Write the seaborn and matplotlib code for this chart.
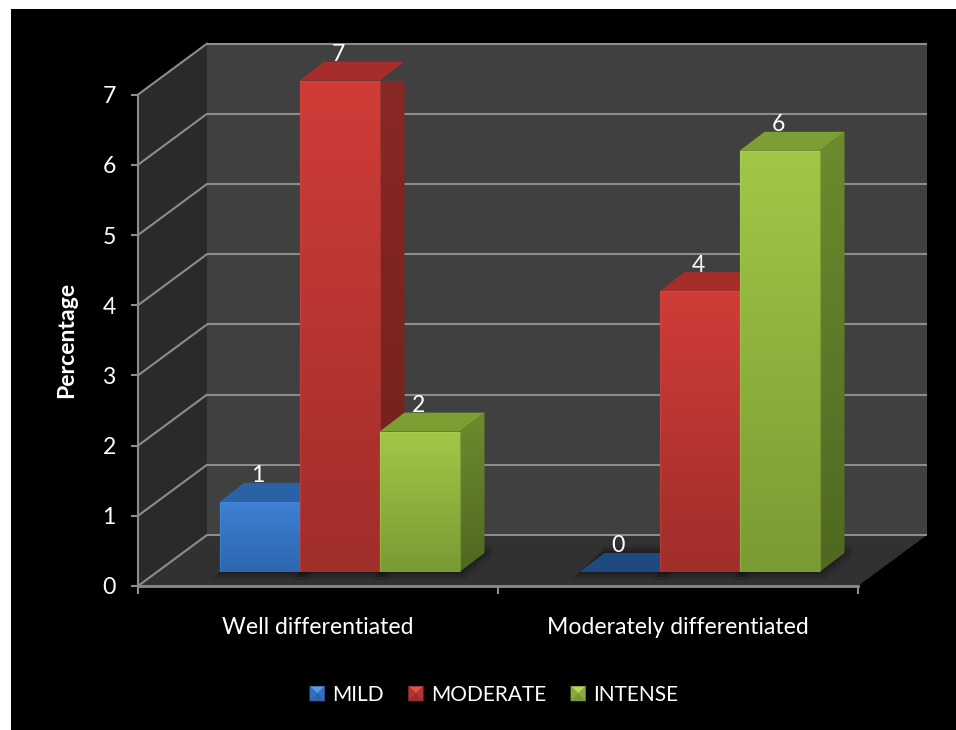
import numpy as np
import pandas as pd
import matplotlib
matplotlib.use("Agg")
import matplotlib.pyplot as plt
from matplotlib.colors import LinearSegmentedColormap, to_rgb
from matplotlib.legend_handler import HandlerBase
from matplotlib.patches import Patch, Polygon, Rectangle
import seaborn as sns

# Chart values
grades = ["Well differentiated", "Moderately differentiated"]
intensity = ["MILD", "MODERATE", "INTENSE"]
mild = [1, 0]
moderate = [7, 4]
intense = [2, 6]
y_ticks = [0, 1, 2, 3, 4, 5, 6, 7]

# Face colours for each series
front_top = {"MILD": "#3f80d6", "MODERATE": "#d03c38", "INTENSE": "#a0c846"}
front_bottom = {"MILD": "#2c66ae", "MODERATE": "#a02e2a", "INTENSE": "#7a9a34"}
top_face = {"MILD": "#2a62a6", "MODERATE": "#a52e2b", "INTENSE": "#7c9e33"}
side_top = {"MILD": "#244f88", "MODERATE": "#8a2925", "INTENSE": "#6c8c2e"}
side_bottom = {"MILD": "#1d4070", "MODERATE": "#6f201d", "INTENSE": "#4f6822"}
edge_light = {"MILD": "#5a9af0", "MODERATE": "#e0504c", "INTENSE": "#b4da58"}

BACK_WALL = "#404040"
SIDE_WALL = "#2a2a2a"
FLOOR = "#313131"
GRID = "#8c8c8c"

W, H = 956, 730
UNIT = 70.2
WALL_DX, WALL_DY = 69, 51
BAR_DX, BAR_DY = 25, 19

sns.set_theme(style="dark", rc={"axes.facecolor": "none", "figure.facecolor": "white"})
plt.rcParams["font.family"] = ["Lato", "DejaVu Sans"]

frame = pd.DataFrame({
    "grade": grades * 3,
    "intensity": np.repeat(intensity, len(grades)),
    "value": mild + moderate + intense,
})


def px_axes(fig, left, right, bottom, top, **kw):
    """Axes placed by pixel edges, measured from the top-left of the figure."""
    return fig.add_axes([left / W, 1 - bottom / H, (right - left) / W, (bottom - top) / H], **kw)


def gradient_fill(ax, patch, c_top, c_bottom, zorder):
    """Vertical colour ramp clipped to a patch."""
    ax.add_patch(patch)
    patch.set_facecolor("none")
    patch.set_edgecolor("none")
    patch.set_zorder(zorder)
    box = patch.get_path().transformed(patch.get_patch_transform()).get_extents()
    if box.height <= 0:
        return
    cmap = LinearSegmentedColormap.from_list("ramp", [c_top, c_bottom])
    im = ax.imshow(np.linspace(0, 1, 128).reshape(-1, 1), cmap=cmap, aspect="auto",
                   extent=(box.x0, box.x1, box.y0, box.y1), zorder=zorder, origin="upper")
    im.set_clip_path(patch)


def blend(a, b, t=0.5):
    ra, rb = np.array(to_rgb(a)), np.array(to_rgb(b))
    return tuple(ra * (1 - t) + rb * t)


class PillowHandler(HandlerBase):
    """Small bevelled square used as the legend key."""

    def create_artists(self, legend, orig, x0, y0, width, height, fontsize, trans):
        name = orig.get_label()
        s = width
        y0 = y0 + (height - s) / 2
        cx, cy = x0 + s / 2, y0 + s / 2
        a, b, c, d = (x0, y0), (x0 + s, y0), (x0 + s, y0 + s), (x0, y0 + s)
        m = (cx, cy)
        mid = blend(front_top[name], front_bottom[name], 0.6)
        faces = [((d, c, m), edge_light[name]), ((a, b, m), front_bottom[name]),
                 ((a, d, m), mid), ((b, c, m), mid)]
        return [Polygon(pts, closed=True, facecolor=col, edgecolor=col, lw=0.3, transform=trans)
                for pts, col in faces]


fig = plt.figure(figsize=(W / 100, H / 100), dpi=100, facecolor="white")
fig.add_artist(Rectangle((11 / W, 0), 1 - 11 / W, 1 - 9 / H, transform=fig.transFigure,
                         facecolor="black", edgecolor="none", zorder=-5))

# Front plane of the chart box: carries the axis lines, ticks and labels
ax = px_axes(fig, 138, 858, 586, 586 - 7 * UNIT)
ax.set_xlim(-0.5, 1.5)
ax.set_ylim(0, 7)
ddx = WALL_DX / 360
ddy = WALL_DY / UNIT

wall_kw = dict(closed=True, edgecolor="none", clip_on=False)
ax.add_patch(Polygon([(-0.5 + ddx, ddy), (1.5 + ddx, ddy), (1.5 + ddx, 7 + ddy), (-0.5 + ddx, 7 + ddy)],
                     facecolor=BACK_WALL, zorder=0.1, **wall_kw))
ax.add_patch(Polygon([(-0.5, 0), (-0.5 + ddx, ddy), (-0.5 + ddx, 7 + ddy), (-0.5, 7)],
                     facecolor=SIDE_WALL, zorder=0.1, **wall_kw))
ax.add_patch(Polygon([(-0.5, 0), (1.5, 0), (1.5 + ddx, ddy), (-0.5 + ddx, ddy)],
                     facecolor=FLOOR, zorder=0.2, **wall_kw))

for t in y_ticks:
    ax.plot([-0.5 + ddx, 1.5 + ddx], [t + ddy, t + ddy], color=GRID, lw=1.5, clip_on=False, zorder=0.3,
            solid_capstyle="butt")
    ax.plot([-0.5, -0.5 + ddx], [t, t + ddy], color=GRID, lw=1.5, clip_on=False, zorder=0.3)

ax.set_xticks([0, 1], grades)
ax.set_xticks([-0.5, 0.5, 1.5], minor=True)
ax.set_yticks(y_ticks)
ax.grid(False)
ax.tick_params(axis="x", which="major", length=0, pad=22.5, labelsize=16.6, labelcolor="white")
ax.tick_params(axis="x", which="minor", length=5.5, width=1.5, color=GRID, bottom=True)
ax.tick_params(axis="y", length=5, width=1.5, color=GRID, left=True, pad=11, labelsize=16.6, labelcolor="white")
for name, spine in ax.spines.items():
    spine.set_visible(name in ("left", "bottom"))
    spine.set_color(GRID)
    spine.set_zorder(5)
ax.spines["left"].set_linewidth(1.5)
ax.spines["bottom"].set_linewidth(2)
ax.set_ylabel("Percentage", color="white", fontsize=16.6, fontweight="bold", labelpad=18)

# The bars stand a little behind the front plane, on the floor
bars_ax = px_axes(fig, 159.5, 879.5, 572, 572 - 7 * UNIT)
bars_ax.patch.set_visible(False)
sns.barplot(data=frame, x="grade", y="value", hue="intensity", hue_order=intensity, order=grades,
            width=2 / 3, gap=0, errorbar=None, legend=False, ax=bars_ax)
bars_ax.set_xlim(-0.5, 1.5)
bars_ax.set_ylim(0, 7)
bars_ax.axis("off")

bdx = BAR_DX / 360
bdy = BAR_DY / UNIT

order = []
for name, container in zip(intensity, bars_ax.containers):
    order += [(b, name) for b in container]
order.sort(key=lambda item: item[0].get_x())

for i, (bar, name) in enumerate(order):
    x0, w, v = bar.get_x(), bar.get_width(), bar.get_height()
    z = 2 + i * 0.1

    # Soft contact shadow cast on the floor
    for grow, alpha in ((0.022, 0.08), (0.014, 0.12), (0.006, 0.18)):
        gy = grow * 360 / UNIT
        bars_ax.add_patch(Polygon(
            [(x0 - grow, -gy), (x0 + w + grow, -gy), (x0 + w + bdx + grow, bdy - gy * 0.4),
             (x0 + bdx + w + grow, bdy + gy), (x0 + bdx, bdy + gy)],
            closed=True, facecolor="black", edgecolor="none", alpha=alpha, zorder=1, clip_on=False))

    side = Polygon([(x0 + w, 0), (x0 + w + bdx, bdy), (x0 + w + bdx, v + bdy), (x0 + w, v)], closed=True,
                   clip_on=False)
    gradient_fill(bars_ax, side, side_top[name], side_bottom[name], z)

    top_col = top_face[name] if v > 0 else "#1e4a80"
    bars_ax.add_patch(Polygon([(x0, v), (x0 + w, v), (x0 + w + bdx, v + bdy), (x0 + bdx, v + bdy)], closed=True,
                              facecolor=top_col, edgecolor="none", zorder=z + 0.01, clip_on=False))

    if v > 0:
        face = Rectangle((x0, 0), w, v, clip_on=False)
        gradient_fill(bars_ax, face, front_top[name], front_bottom[name], z + 0.02)
        bar.set_facecolor("none")
        bar.set_edgecolor(edge_light[name])
        bar.set_alpha(0.3)
        bar.set_linewidth(1.0)
        bar.set_zorder(z + 0.03)
    else:
        bar.set_visible(False)

    bars_ax.annotate(f"{v:.0f}", (x0 + w / 2, v), xytext=(-1, 26 * 0.72), textcoords="offset points",
                     ha="center", va="center", color="white", fontsize=16.6, zorder=10, annotation_clip=False)

bars_ax.set_xlim(-0.5, 1.5)
bars_ax.set_ylim(0, 7)

handles = [Patch(label=name) for name in intensity]
fig.legend(handles=handles, labels=intensity, loc="center", bbox_to_anchor=(494 / W, 1 - 695 / H), ncol=3,
           frameon=False, fontsize=15, labelcolor="white", handlelength=0.7, handleheight=0.7,
           handletextpad=0.36, columnspacing=1.2, borderpad=0,
           handler_map={Patch: PillowHandler()})

fig.savefig("out.png", dpi=100)
